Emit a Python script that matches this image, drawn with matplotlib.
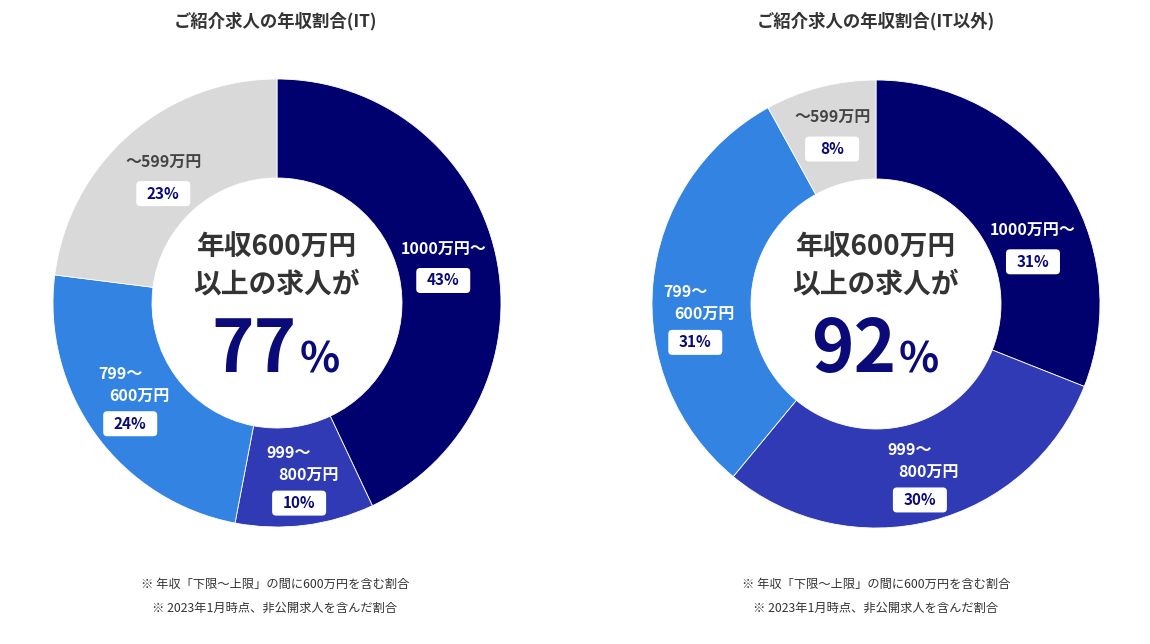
import matplotlib
matplotlib.use("Agg")
import matplotlib.pyplot as plt
from matplotlib.patches import FancyBboxPatch
import numpy as np

plt.rcParams['font.family'] = ['Noto Sans CJK JP', 'DejaVu Sans']

# data
categories = ["1000万円～", "999～\n800万円", "799～\n600万円", "～599万円"]
it_values = [43, 10, 24, 23]
other_values = [31, 30, 31, 8]
titles = ["ご紹介求人の年収割合(IT)", "ご紹介求人の年収割合(IT以外)"]
center_pct = [77, 92]
notes = ["※ 年収「下限～上限」の間に600万円を含む割合",
         "※ 2023年1月時点、非公開求人を含んだ割合"]

colors = ["#00006e", "#2f3ab4", "#3283e2", "#d9d9d9"]
label_colors = ["white", "white", "white", "#444444"]
NAVY = "#0a0a78"
DARK = "#333333"

W, H = 1150, 644
def Y(y):
    return H - y

fig = plt.figure(figsize=(11.5, 6.44), dpi=100)
ax = fig.add_axes([0, 0, 1, 1])

# label nudges in pixels (x right, y down)
charts = [
    dict(values=it_values, cx=277, cy=303, title_x=275,
         nudge={0: (-6, 0), 2: (-4, -8), 3: (3, 7)}),
    dict(values=other_values, cx=876, cy=304, title_x=876,
         nudge={0: (11, 41), 2: (-5, 30)}),
]

R, RIN = 224, 125
for i, ch in enumerate(charts):
    cx, cy = ch["cx"], Y(ch["cy"])
    wedges, _ = ax.pie(ch["values"], colors=colors, startangle=90, counterclock=False,
                       radius=R, center=(cx, cy),
                       wedgeprops=dict(width=R - RIN, edgecolor="white", linewidth=0.6))
    rl = (R + RIN) / 2 + 2
    for j, w in enumerate(wedges):
        mid = np.deg2rad((w.theta1 + w.theta2) / 2)
        ax_ = cx + rl * np.cos(mid)
        ay = cy + rl * np.sin(mid)
        dx, dy = ch["nudge"].get(j, (0, 0))
        ax_ += dx
        ay -= dy
        lines = categories[j].split("\n")
        if len(lines) == 1:
            ax.text(ax_, ay + 15, lines[0], ha="center", va="center", fontsize=11.5,
                    fontweight="bold", color=label_colors[j])
            by = ay - 16
        else:
            ax.text(ax_ - 10, ay + 25, lines[0], ha="center", va="center", fontsize=11.5,
                    fontweight="bold", color=label_colors[j])
            ax.text(ax_ + 9, ay + 2, lines[1], ha="center", va="center", fontsize=11.5,
                    fontweight="bold", color=label_colors[j])
            by = ay - 25
        bw, bh = 54, 25
        ax.add_patch(FancyBboxPatch((ax_ - bw / 2, by - bh / 2), bw, bh,
                                    boxstyle="round,pad=0,rounding_size=4",
                                    fc="white", ec="none", zorder=3))
        ax.text(ax_, by, f"{ch['values'][j]}%", ha="center", va="center", fontsize=11,
                fontweight="bold", color=NAVY, zorder=4)

    # centre text
    ax.text(cx, Y(248), "年収600万円", ha="center", va="center", fontsize=20,
            fontweight="bold", color=DARK)
    ax.text(cx, Y(284), "以上の求人が", ha="center", va="center", fontsize=20,
            fontweight="bold", color=DARK)
    ax.text(cx + 20, Y(372), str(center_pct[i]), ha="right", va="baseline", fontsize=52,
            fontweight="bold", color=NAVY)
    ax.text(cx + 23, Y(372), "%", ha="left", va="baseline", fontsize=30,
            fontweight="bold", color=NAVY)

    ax.text(ch["title_x"], Y(21), titles[i], ha="center", va="center", fontsize=12.5,
            fontweight="bold", color=DARK)
    ax.text(ch["title_x"], Y(584), notes[0], ha="center", va="center", fontsize=8.8,
            color=DARK)
    ax.text(ch["title_x"], Y(608), notes[1], ha="center", va="center", fontsize=8.8,
            color=DARK)

ax.set_xlim(0, W)
ax.set_ylim(0, H)
ax.axis("off")

fig.savefig("out.png", dpi=100)
